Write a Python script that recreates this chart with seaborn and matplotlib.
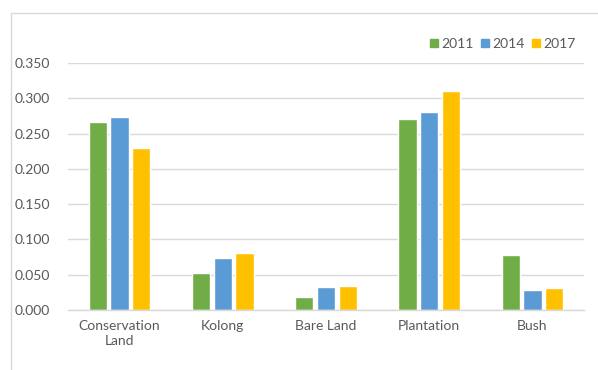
import matplotlib
matplotlib.use("Agg")
import matplotlib.pyplot as plt
import seaborn as sns
import pandas as pd
from matplotlib.lines import Line2D

categories = ["Conservation\nLand", "Kolong", "Bare Land", "Plantation", "Bush"]
years = ["2011", "2014", "2017"]
v2011 = [0.267, 0.052, 0.019, 0.270, 0.078]
v2014 = [0.273, 0.073, 0.032, 0.281, 0.029]
v2017 = [0.230, 0.081, 0.034, 0.310, 0.031]
yticks = [0.000, 0.050, 0.100, 0.150, 0.200, 0.250, 0.300, 0.350]
colors = ["#70AD47", "#5B9BD5", "#FFC000"]

rows = []
for yr, vals in zip(years, [v2011, v2014, v2017]):
    for c, v in zip(categories, vals):
        rows.append({"category": c, "year": yr, "value": v})
df = pd.DataFrame(rows)

sns.set_theme(style="white")
plt.rcParams['font.family'] = ['Lato', 'DejaVu Sans']
text_color = "#595959"
fs = 10

fig = plt.figure(figsize=(5.98, 3.70), dpi=100)
ax = fig.add_axes([68/598, 1-310/370, (584-68)/598, (310-63)/370])

sns.barplot(data=df, x="category", y="value", hue="year", palette=colors,
            order=categories, hue_order=years, width=0.63, gap=0.16,
            saturation=1, ax=ax, legend=False)

ax.set_ylim(0, 0.35)
ax.set_yticks(yticks)
ax.set_yticklabels([f"{t:.3f}" for t in yticks], color=text_color, fontsize=fs)
ax.set_xlim(-0.5, len(categories) - 0.5)
ax.tick_params(axis='x', colors=text_color, labelsize=fs, length=0, pad=7)
ax.tick_params(axis='y', length=0, pad=13)
for lbl in ax.get_xticklabels():
    lbl.set_color(text_color)
    lbl.set_linespacing(1.35)
ax.set_xlabel("")
ax.set_ylabel("")
ax.yaxis.grid(True, color="#D9D9D9", linewidth=1)
ax.set_axisbelow(True)
for s in ["top", "right", "left"]:
    ax.spines[s].set_visible(False)
ax.spines["bottom"].set_color("#D9D9D9")
ax.spines["bottom"].set_linewidth(1)

handles = [Line2D([0], [0], marker='s', linestyle='', markersize=6,
                  markerfacecolor=c, markeredgecolor=c) for c in colors]
leg = fig.legend(handles, years, loc="center right",
                 bbox_to_anchor=(588/598, 1-44/370), ncol=3, frameon=False,
                 handlelength=0.7, handletextpad=0.15, columnspacing=0.5,
                 fontsize=fs)
for t in leg.get_texts():
    t.set_color(text_color)

# outer chart frame
fig.add_artist(Line2D([11/598, 1], [1-13/370, 1-13/370], transform=fig.transFigure,
                      color="#D9D9D9", linewidth=1))
fig.add_artist(Line2D([11/598, 11/598], [0, 1-13/370], transform=fig.transFigure,
                      color="#D9D9D9", linewidth=1))

fig.savefig("out.png", dpi=100)
